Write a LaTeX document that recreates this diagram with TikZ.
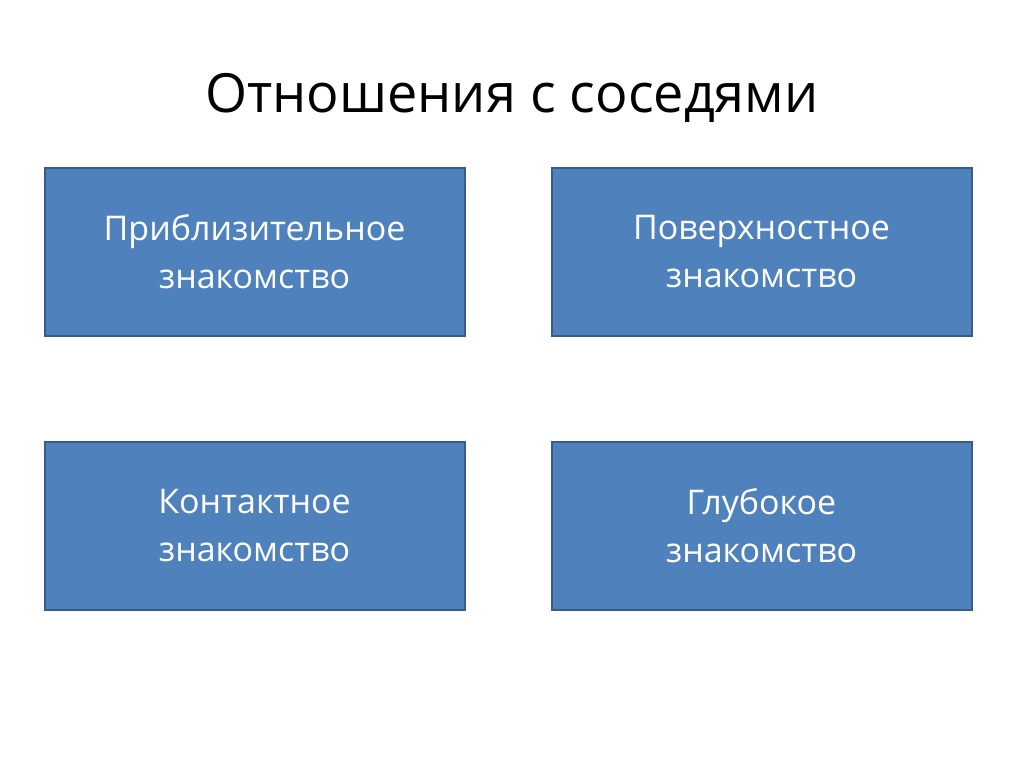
\documentclass[tikz,border=0pt]{standalone}
\usepackage{fontspec}
\setmainfont{Open Sans}
\definecolor{boxfill}{HTML}{4F81BD}
\definecolor{boxline}{HTML}{385D8A}
\begin{document}
\begin{tikzpicture}[x=1pt,y=-1pt,
  card/.style={draw=boxline, line width=2pt, fill=boxfill, minimum width=420pt, minimum height=168pt, inner sep=0pt, text=white, align=center, font=\fontsize{34}{48}\selectfont},
  titletext/.style={font=\fontsize{54}{60}\selectfont, text=black, inner sep=0pt}]
\useasboundingbox (0,0) rectangle (1024,768);
\fill[white] (0,0) rectangle (1024,768);
\node[titletext] (title) at (512,98) {Отношения с соседями};
\node[card] (a) at (254.5,251.5) {Приблизительное\\знакомство};
\node[card] (b) at (761.5,251.5) {Поверхностное\\знакомство};
\node[card] (c) at (254.5,525.5) {Контактное\\знакомство};
\node[card] (d) at (761.5,525.5) {Глубокое\\знакомство};
\end{tikzpicture}
\end{document}
